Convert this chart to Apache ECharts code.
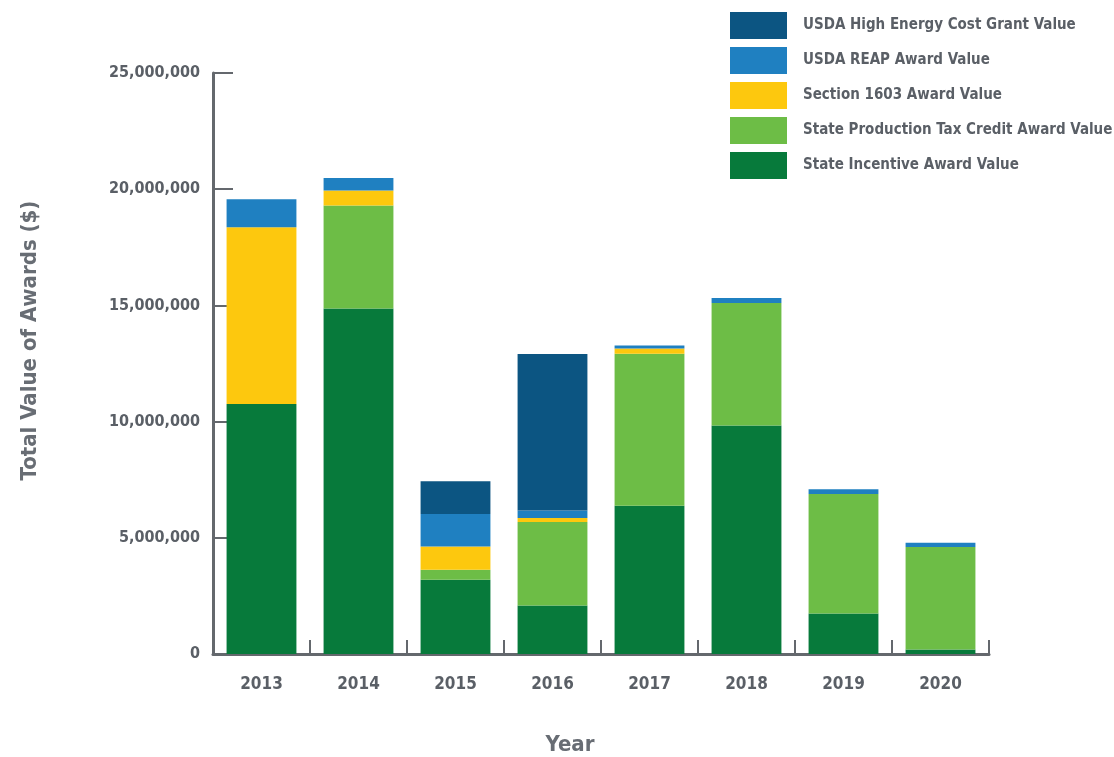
<!DOCTYPE html>
<html>
<head>
<meta charset="utf-8">
<script src="https://cdn.jsdelivr.net/npm/echarts@6/dist/echarts.min.js"></script>
<style>html,body{margin:0;padding:0;background:#fff;}#c{width:1114px;height:757px;}</style>
</head>
<body>
<div id="c"></div>
<script>
const years = ['2013','2014','2015','2016','2017','2018','2019','2020'];
const stateIncentive = [10760000, 14870000, 3200000, 2090000, 6380000, 9830000, 1740000, 190000];
const statePTC       = [0,        4430000,  430000,  3590000, 6540000, 5270000, 5140000, 4410000];
const section1603    = [7600000,  640000,   1000000, 170000,  230000,  0,       0,       0];
const usdaREAP       = [1210000,  540000,   1390000, 330000,  120000,  220000,  210000,  190000];
const usdaHighEnergy = [0,        0,        1410000, 6730000, 0,       0,       0,       0];
const yTicks = [0, 5000000, 10000000, 15000000, 20000000, 25000000];

const FONT = "'Liberation Sans Narrow','DejaVu Sans Condensed','Roboto Condensed',sans-serif";
const GRAY = '#5a5f66';
const TITLE = '#686d74';
const AXIS = '#64686d';

const names = {
  he: 'USDA High Energy Cost Grant Value',
  reap: 'USDA REAP Award Value',
  s1603: 'Section 1603 Award Value',
  ptc: 'State Production Tax Credit Award Value',
  inc: 'State Incentive Award Value'
};

function bar(name, data, color) {
  return { name, type: 'bar', stack: 'total', data, barCategoryGap: '28%',
           itemStyle: { color }, emphasis: { disabled: true } };
}

const chart = echarts.init(document.getElementById('c'), null, { renderer: 'canvas' });
chart.setOption({
  animation: false,
  backgroundColor: '#ffffff',
  grid: { left: 213, right: 125, top: 73, bottom: 103, containLabel: false, outerBoundsMode: 'none' },
  legend: {
    orient: 'vertical', left: 730, top: 12, padding: 0,
    itemWidth: 57, itemHeight: 27, itemGap: 8,
    icon: 'rect',
    data: [names.he, names.reap, names.s1603, names.ptc, names.inc],
    textStyle: { fontFamily: FONT, fontWeight: 'bold', fontSize: 15, color: GRAY, padding: [0, 0, 0, 11] }
  },
  xAxis: {
    type: 'category', data: years,
    name: 'Year', nameLocation: 'middle', nameGap: 80,
    nameTextStyle: { fontFamily: FONT, fontWeight: 'bold', fontSize: 22, color: TITLE, padding: [0, 62, 0, 0] },
    axisLine: { show: true, lineStyle: { color: AXIS, width: 3 } },
    axisTick: { show: true, inside: true, length: 14, lineStyle: { color: AXIS, width: 2 } },
    axisLabel: { margin: 22, fontFamily: FONT, fontWeight: 'bold', fontSize: 17, color: GRAY }
  },
  yAxis: {
    type: 'value', min: 0, max: 25000000, interval: 5000000,
    name: 'Total Value of Awards ($)', nameLocation: 'middle', nameGap: 172,
    nameTextStyle: { fontFamily: FONT, fontWeight: 'bold', fontSize: 22, color: TITLE, padding: [0, 0, 0, 46] },
    axisLine: { show: true, lineStyle: { color: AXIS, width: 3 } },
    axisTick: { show: true, inside: true, length: 20, lineStyle: { color: AXIS, width: 2 } },
    splitLine: { show: false },
    axisLabel: { margin: 13, fontFamily: FONT, fontWeight: 'bold', fontSize: 16, color: GRAY,
      formatter: v => yTicks.includes(v) ? v.toLocaleString('en-US') : '' }
  },
  series: [
    bar(names.inc, stateIncentive, '#077a3b'),
    bar(names.ptc, statePTC, '#6dbd46'),
    bar(names.s1603, section1603, '#fdc80e'),
    bar(names.reap, usdaREAP, '#1f80c1'),
    bar(names.he, usdaHighEnergy, '#0c5582')
  ]
});
</script>
</body>
</html>
